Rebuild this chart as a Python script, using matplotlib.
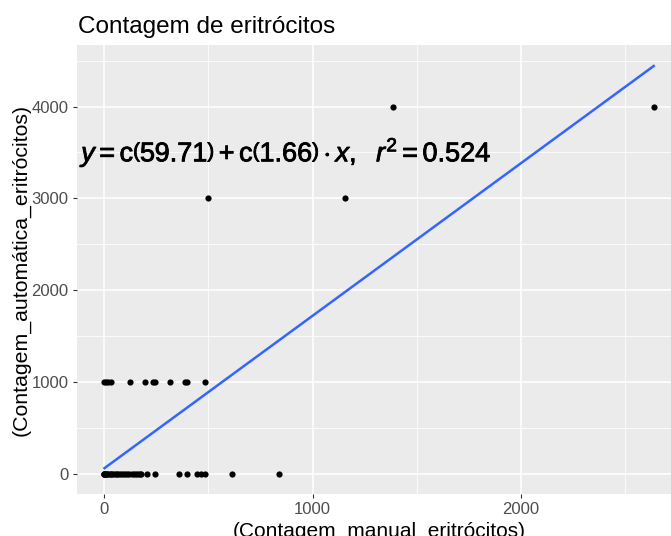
import numpy as np
import matplotlib.pyplot as plt
import matplotlib.patheffects as pe
from matplotlib.ticker import MultipleLocator

plt.rcParams['font.family'] = ['Liberation Sans', 'DejaVu Sans']
plt.rcParams['mathtext.fontset'] = 'custom'
plt.rcParams['mathtext.rm'] = 'Liberation Sans'
plt.rcParams['mathtext.it'] = 'Liberation Sans:italic'
plt.rcParams['mathtext.bf'] = 'Liberation Sans:bold'

# manual vs automatic red cell counts
manual_0 = [0, 0, 0, 3, 8, 12, 18, 25, 30, 38, 45, 55, 62, 70, 80, 90, 100, 110,
            120, 130, 140, 150, 160, 170, 176, 203, 242, 357, 397, 444, 462, 481,
            614, 841]
manual_1000 = [0, 5, 16, 30, 124, 197, 232, 245, 317, 388, 396, 482]
manual_3000 = [500, 1157]
manual_4000 = [1385, 2640]

x = np.array(manual_0 + manual_1000 + manual_3000 + manual_4000)
y = np.array([0] * len(manual_0) + [1000] * len(manual_1000)
             + [3000] * len(manual_3000) + [4000] * len(manual_4000))

intercept = 59.71
slope = 1.66
r2 = 0.524

fig = plt.figure(figsize=(6.71, 5.36), dpi=100)
ax = fig.add_axes([77 / 671, 42 / 536, 605 / 671, 449 / 536])
ax.set_facecolor('#EBEBEB')
for s in ax.spines.values():
    s.set_visible(False)

ax.xaxis.set_major_locator(MultipleLocator(1000))
ax.xaxis.set_minor_locator(MultipleLocator(500))
ax.yaxis.set_major_locator(MultipleLocator(1000))
ax.yaxis.set_minor_locator(MultipleLocator(500))
ax.grid(which='major', color='white', lw=1.1)
ax.grid(which='minor', color='white', lw=0.55)
ax.set_axisbelow(True)
ax.tick_params(which='major', length=3, width=0.8, color='#333333',
               labelcolor='#4D4D4D', labelsize=12, pad=3)
ax.tick_params(which='minor', length=0)

ax.scatter(x, y, s=20, color='black', zorder=3, linewidths=0)

xl = np.array([x.min(), x.max()])
ax.plot(xl, intercept + slope * xl, color='#3366FF', lw=1.8, zorder=2)

eq = (r'$\mathit{y} = \mathrm{c}\left(59.71\right) + \mathrm{c}\left(1.66\right) \cdot \mathit{x},'
      r'\ \ \mathit{r}^2 = %.3f$' % r2)
ax.text(-112, 3500, eq, fontsize=19.5, va='center', ha='left', color='black',
        path_effects=[pe.withStroke(linewidth=0.6, foreground='black')])

ax.set_xlim(-132, 2776)
ax.set_ylim(-222, 4671)

ax.set_xlabel('(Contagem_manual_eritrócitos)', fontsize=15, labelpad=3)
ax.set_ylabel('(Contagem_automática_eritrócitos)', fontsize=15.3, va='center')
ax.yaxis.set_label_coords(-0.0926, 0.5)
fig.text(78 / 671, 1 - 27 / 536, 'Contagem de eritrócitos', fontsize=17.5,
         va='center', ha='left')

fig.savefig('out.png', dpi=100)
